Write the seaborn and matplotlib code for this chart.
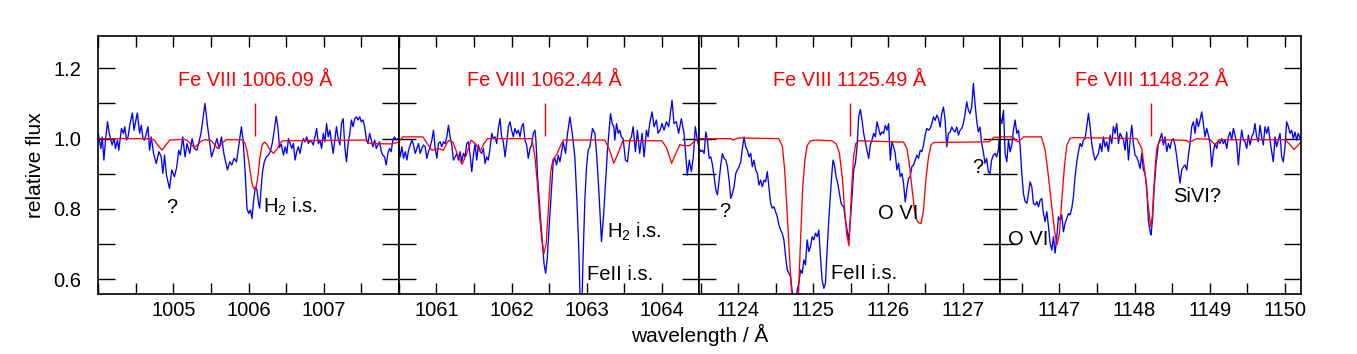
import numpy as np
import pandas as pd
import matplotlib
matplotlib.use("Agg")
import matplotlib.pyplot as plt
from matplotlib.ticker import MultipleLocator, FixedLocator
import seaborn as sns

# ---------------- data ----------------
line_waves = [1006.09, 1062.44, 1125.49, 1148.22]
line_labels = ["Fe VIII 1006.09 Å", "Fe VIII 1062.44 Å", "Fe VIII 1125.49 Å", "Fe VIII 1148.22 Å"]
xlims = [(1004.0, 1008.0), (1060.5, 1064.5), (1123.48, 1127.5), (1146.21, 1150.21)]
xtick_major = [[1005, 1006, 1007], [1061, 1062, 1063, 1064],
               [1124, 1125, 1126, 1127], [1147, 1148, 1149, 1150]]
ytick_major = [0.6, 0.8, 1.0, 1.2]
ylim = (0.558, 1.292)
marker_lo, marker_hi = 1.008, 1.10

obs1 = [(1004.000,1.015),(1004.035,0.972),(1004.053,1.005),(1004.075,0.939),(1004.097,0.996),(1004.123,1.048),
(1004.146,1.015),(1004.168,0.996),(1004.185,0.982),(1004.212,1.000),(1004.229,0.972),(1004.256,0.996),(1004.273,0.967),
(1004.309,1.029),(1004.335,1.015),(1004.353,1.034),(1004.375,0.996),(1004.397,1.005),(1004.419,1.038),(1004.454,1.073),
(1004.476,1.024),(1004.520,1.073),(1004.551,1.015),(1004.573,1.038),(1004.595,1.000),(1004.617,0.996),(1004.661,1.034),
(1004.683,0.967),(1004.705,1.005),(1004.736,0.958),(1004.772,0.929),(1004.807,0.963),(1004.838,0.948),(1004.860,0.901),
(1004.882,0.953),(1004.908,0.896),(1004.948,0.858),(1004.979,0.911),(1005.014,0.892),(1005.045,0.920),(1005.071,0.967),
(1005.093,0.953),(1005.124,1.005),(1005.155,0.948),(1005.182,0.986),(1005.217,0.958),(1005.248,1.000),(1005.279,0.972),
(1005.314,0.967),(1005.367,1.015),(1005.420,1.100),(1005.455,1.034),(1005.508,0.948),(1005.543,0.972),(1005.578,1.000),
(1005.609,0.972),(1005.640,1.005),(1005.675,0.953),(1005.720,0.911),(1005.750,0.934),(1005.777,0.925),(1005.808,0.944),
(1005.839,0.934),(1005.865,0.972),(1005.905,1.034),(1005.927,0.996),(1005.953,0.911),(1005.980,0.800),(1006.002,0.787),
(1006.024,0.797),(1006.046,0.773),(1006.068,0.825),(1006.090,0.863),(1006.112,0.853),(1006.134,0.816),(1006.148,0.802),
(1006.165,0.853),(1006.183,0.901),(1006.209,0.934),(1006.236,0.948),(1006.262,0.953),(1006.289,0.963),(1006.315,0.986),
(1006.342,1.024),(1006.368,1.064),(1006.390,1.034),(1006.412,0.975),(1006.434,0.985),(1006.465,0.953),(1006.487,0.977),
(1006.509,0.958),(1006.531,1.000),(1006.553,0.986),(1006.575,0.972),(1006.597,0.986),(1006.619,0.939),(1006.641,0.963),
(1006.663,0.977),(1006.685,0.958),(1006.708,0.986),(1006.730,1.000),(1006.752,0.991),(1006.774,1.005),(1006.796,0.986),
(1006.818,0.996),(1006.840,0.991),(1006.862,0.982),(1006.884,1.005),(1006.906,1.029),(1006.928,0.986),(1006.950,0.996),
(1006.972,0.972),(1006.994,1.015),(1007.016,0.991),(1007.038,1.043),(1007.060,1.005),(1007.082,1.024),(1007.104,0.991),
(1007.126,0.958),(1007.148,0.996),(1007.170,1.034),(1007.193,1.000),(1007.215,0.982),(1007.237,1.043),(1007.259,1.057),
(1007.281,0.977),(1007.303,0.934),(1007.325,0.986),(1007.347,1.015),(1007.369,1.053),(1007.391,1.034),(1007.413,1.057),
(1007.435,1.062),(1007.457,1.053),(1007.479,1.062),(1007.501,1.048),(1007.523,1.053),(1007.545,1.034),(1007.567,1.000),
(1007.589,0.986),(1007.611,1.015),(1007.633,0.996),(1007.655,0.977),(1007.678,0.996),(1007.700,0.972),(1007.722,0.982),
(1007.744,0.991),(1007.766,0.963),(1007.788,0.953),(1007.810,0.948),(1007.832,0.925),(1007.854,0.958),(1007.876,0.972),
(1007.898,0.963),(1007.920,0.996),(1007.942,1.005),(1007.964,0.996),(1007.986,1.000)]

obs2 = [(1060.496,0.986),(1060.518,0.948),(1060.540,0.977),(1060.562,0.944),(1060.585,0.963),(1060.607,0.939),
(1060.629,0.967),(1060.651,0.982),(1060.673,0.996),(1060.695,0.982),(1060.717,0.958),(1060.739,0.972),(1060.762,0.986),
(1060.784,0.958),(1060.806,0.972),(1060.828,0.982),(1060.850,0.977),(1060.872,0.944),(1060.894,0.963),(1060.917,0.977),
(1060.939,0.996),(1060.961,1.024),(1060.983,0.972),(1061.005,0.944),(1061.027,0.986),(1061.049,0.991),(1061.071,0.977),
(1061.094,0.991),(1061.116,0.986),(1061.138,1.005),(1061.160,1.038),(1061.182,1.005),(1061.204,0.982),(1061.226,0.939),
(1061.249,0.948),(1061.271,0.958),(1061.293,0.939),(1061.315,0.963),(1061.337,0.934),(1061.359,0.958),(1061.381,0.948),
(1061.403,0.986),(1061.426,0.991),(1061.448,0.953),(1061.470,0.906),(1061.492,0.953),(1061.514,0.986),(1061.536,0.939),
(1061.558,0.982),(1061.581,0.963),(1061.603,0.958),(1061.625,0.972),(1061.647,0.929),(1061.669,0.948),(1061.691,0.939),
(1061.713,0.972),(1061.736,1.015),(1061.758,1.000),(1061.780,1.005),(1061.802,0.986),(1061.824,1.029),(1061.846,1.057),
(1061.868,1.005),(1061.890,0.991),(1061.913,0.948),(1061.935,0.986),(1061.957,1.034),(1061.979,1.048),(1062.001,1.024),
(1062.023,1.005),(1062.045,1.029),(1062.068,1.015),(1062.090,1.024),(1062.112,1.005),(1062.134,1.034),(1062.156,1.043),
(1062.178,0.996),(1062.200,0.982),(1062.222,0.944),(1062.245,0.972),(1062.267,0.982),(1062.289,1.015),(1062.311,1.024),
(1062.324,0.996),(1062.346,0.892),(1062.364,0.835),(1062.386,0.768),(1062.408,0.712),(1062.431,0.645),(1062.442,0.630),
(1062.453,0.617),(1062.475,0.660),(1062.497,0.740),(1062.515,0.800),(1062.532,0.853),(1062.554,0.934),(1062.577,0.944),
(1062.599,0.925),(1062.621,0.953),(1062.643,0.934),(1062.687,0.991),(1062.718,0.958),(1062.745,1.015),(1062.776,1.062),
(1062.807,1.015),(1062.842,0.948),(1062.869,0.825),(1062.895,0.683),(1062.917,0.500),(1062.935,0.520),(1062.953,0.673),
(1062.975,0.825),(1062.997,0.920),(1063.019,0.967),(1063.041,0.977),(1063.077,1.029),(1063.108,1.015),(1063.134,0.948),
(1063.161,0.853),(1063.196,0.707),(1063.223,0.778),(1063.249,0.873),(1063.276,0.967),(1063.298,1.024),(1063.316,1.071),
(1063.338,1.043),(1063.360,1.034),(1063.373,0.996),(1063.396,1.043),(1063.418,1.015),(1063.440,1.024),(1063.462,1.005),
(1063.484,1.000),(1063.515,0.939),(1063.542,0.934),(1063.573,0.996),(1063.595,1.005),(1063.617,1.034),(1063.648,0.963),
(1063.674,1.024),(1063.705,0.958),(1063.736,1.015),(1063.763,0.948),(1063.794,1.024),(1063.816,1.005),(1063.838,1.043),
(1063.869,1.076),(1063.896,1.034),(1063.927,1.053),(1063.949,1.015),(1063.975,1.024),(1064.002,1.043),(1064.029,1.024),
(1064.060,1.048),(1064.091,1.034),(1064.135,1.109),(1064.161,1.043),(1064.192,1.048),(1064.223,1.015),(1064.259,1.057),
(1064.294,1.015),(1064.339,0.896),(1064.365,0.939),(1064.392,0.906),(1064.418,0.948),(1064.445,1.034),(1064.471,0.996),
(1064.500,0.972)]

obs3 = [(1123.476,0.972),(1123.498,0.963),(1123.520,0.967),(1123.543,0.958),(1123.565,1.019),(1123.587,0.996),
(1123.609,0.944),(1123.632,0.948),(1123.654,0.925),(1123.676,0.892),(1123.698,0.854),(1123.720,0.840),(1123.743,0.882),
(1123.765,0.925),(1123.787,0.958),(1123.809,0.944),(1123.832,0.939),(1123.854,0.920),(1123.876,0.882),(1123.898,0.830),
(1123.920,0.844),(1123.943,0.863),(1123.965,0.901),(1123.987,0.911),(1124.009,0.920),(1124.032,0.934),(1124.054,0.972),
(1124.076,1.005),(1124.098,0.977),(1124.120,0.967),(1124.143,0.948),(1124.165,0.958),(1124.187,0.920),(1124.209,0.939),
(1124.232,0.911),(1124.254,0.901),(1124.276,0.868),(1124.298,0.882),(1124.320,0.863),(1124.343,0.882),(1124.365,0.877),
(1124.387,0.906),(1124.409,0.863),(1124.432,0.816),(1124.454,0.802),(1124.476,0.806),(1124.498,0.792),(1124.520,0.778),
(1124.543,0.754),(1124.565,0.740),(1124.587,0.731),(1124.609,0.712),(1124.632,0.664),(1124.654,0.626),(1124.676,0.617),
(1124.698,0.607),(1124.720,0.565),(1124.743,0.532),(1124.760,0.520),(1124.774,0.541),(1124.787,0.570),(1124.809,0.589),
(1124.832,0.626),(1124.854,0.617),(1124.876,0.655),(1124.898,0.641),(1124.920,0.712),(1124.943,0.679),(1124.965,0.693),
(1124.987,0.721),(1125.009,0.712),(1125.032,0.731),(1125.054,0.721),(1125.076,0.740),(1125.098,0.664),(1125.120,0.598),
(1125.143,0.574),(1125.165,0.589),(1125.187,0.683),(1125.209,0.768),(1125.232,0.844),(1125.254,0.911),(1125.267,0.939),
(1125.285,0.925),(1125.307,0.892),(1125.329,0.873),(1125.352,0.844),(1125.374,0.816),(1125.387,0.811),(1125.409,0.806),
(1125.432,0.768),(1125.454,0.740),(1125.476,0.712),(1125.498,0.768),(1125.520,0.835),(1125.543,0.911),(1125.565,0.930),
(1125.587,0.977),(1125.609,1.062),(1125.632,1.083),(1125.654,1.052),(1125.676,1.015),(1125.698,0.991),(1125.720,0.967),
(1125.743,0.944),(1125.765,0.982),(1125.787,0.996),(1125.809,1.015),(1125.832,1.005),(1125.854,1.048),(1125.876,1.029),
(1125.898,1.010),(1125.920,1.019),(1125.943,1.015),(1125.965,1.038),(1125.987,1.024),(1126.009,1.043),(1126.032,0.939),
(1126.054,0.991),(1126.076,0.977),(1126.098,0.958),(1126.120,0.911),(1126.143,0.930),(1126.165,0.892),(1126.187,0.901),
(1126.209,0.873),(1126.232,0.820),(1126.254,0.858),(1126.276,0.887),(1126.298,0.892),(1126.320,0.920),(1126.343,0.925),
(1126.365,0.939),(1126.387,0.953),(1126.409,0.944),(1126.432,0.967),(1126.454,0.963),(1126.476,0.982),(1126.498,1.010),
(1126.520,1.029),(1126.543,1.024),(1126.565,1.029),(1126.587,1.043),(1126.609,1.062),(1126.632,1.052),(1126.654,1.067),
(1126.676,1.057),(1126.698,1.033),(1126.720,1.071),(1126.743,1.090),(1126.765,1.052),(1126.787,0.977),(1126.809,1.015),
(1126.832,1.019),(1126.854,1.033),(1126.876,1.024),(1126.898,1.019),(1126.920,1.033),(1126.943,1.010),(1126.965,1.024),
(1126.987,1.029),(1127.009,1.043),(1127.032,1.071),(1127.054,1.105),(1127.076,1.081),(1127.098,1.071),(1127.120,1.090),
(1127.143,1.157),(1127.165,1.100),(1127.187,1.052),(1127.209,1.019),(1127.232,1.033),(1127.254,0.986),(1127.276,0.963),
(1127.298,0.930),(1127.320,0.944),(1127.343,0.906),(1127.365,0.901),(1127.387,0.939),(1127.409,0.953),(1127.432,0.958),
(1127.454,0.948),(1127.476,0.967),(1127.502,1.024)]

obs4 = [(1146.211,1.062),(1146.233,1.043),(1146.255,1.081),(1146.277,0.958),(1146.300,0.934),(1146.322,0.996),
(1146.344,0.963),(1146.366,0.982),(1146.388,1.024),(1146.410,1.053),(1146.433,1.015),(1146.455,1.024),(1146.477,0.977),
(1146.499,0.901),(1146.521,0.844),(1146.543,0.821),(1146.566,0.816),(1146.588,0.844),(1146.610,0.877),(1146.632,0.863),
(1146.654,0.816),(1146.676,0.811),(1146.699,0.821),(1146.721,0.806),(1146.743,0.825),(1146.765,0.830),(1146.787,0.787),
(1146.809,0.764),(1146.832,0.792),(1146.854,0.750),(1146.876,0.702),(1146.898,0.683),(1146.920,0.721),(1146.942,0.674),
(1146.965,0.721),(1146.987,0.778),(1147.009,0.768),(1147.031,0.783),(1147.053,0.735),(1147.075,0.759),(1147.098,0.773),
(1147.120,0.787),(1147.142,0.783),(1147.164,0.802),(1147.186,0.835),(1147.208,0.892),(1147.231,0.934),(1147.253,0.963),
(1147.275,0.986),(1147.297,0.977),(1147.319,0.996),(1147.341,1.000),(1147.363,1.034),(1147.386,1.072),(1147.408,1.034),
(1147.430,0.986),(1147.452,0.958),(1147.474,0.939),(1147.496,0.948),(1147.519,0.958),(1147.541,0.986),(1147.563,0.963),
(1147.585,1.005),(1147.607,0.977),(1147.629,0.991),(1147.652,0.963),(1147.674,1.010),(1147.696,0.986),(1147.718,1.034),
(1147.740,1.015),(1147.762,1.043),(1147.785,0.986),(1147.807,1.015),(1147.829,1.005),(1147.851,0.996),(1147.873,0.967),
(1147.895,1.019),(1147.918,0.939),(1147.940,0.996),(1147.962,1.038),(1147.984,0.986),(1148.006,0.953),(1148.028,0.948),
(1148.050,0.934),(1148.073,0.915),(1148.095,0.958),(1148.117,0.911),(1148.139,0.901),(1148.161,0.863),(1148.183,0.768),
(1148.206,0.735),(1148.219,0.726),(1148.241,0.778),(1148.259,0.854),(1148.286,0.929),(1148.317,0.986),(1148.339,1.000),
(1148.361,1.015),(1148.383,0.982),(1148.405,1.005),(1148.428,0.963),(1148.450,0.986),(1148.472,0.972),(1148.494,0.996),
(1148.516,1.000),(1148.538,0.982),(1148.561,0.948),(1148.583,0.911),(1148.605,0.873),(1148.627,0.911),(1148.649,0.920),
(1148.671,0.925),(1148.694,0.911),(1148.716,0.953),(1148.738,0.986),(1148.760,1.034),(1148.782,1.048),(1148.804,1.015),
(1148.827,1.057),(1148.849,1.034),(1148.871,1.053),(1148.893,1.076),(1148.915,1.043),(1148.937,1.005),(1148.960,1.029),
(1148.982,1.010),(1149.004,0.986),(1149.026,0.920),(1149.048,0.963),(1149.070,0.986),(1149.093,0.972),(1149.115,0.996),
(1149.137,0.986),(1149.159,1.000),(1149.181,0.986),(1149.203,0.996),(1149.226,0.972),(1149.248,1.005),(1149.270,1.019),
(1149.292,0.996),(1149.314,1.029),(1149.336,1.010),(1149.359,0.986),(1149.381,0.925),(1149.403,0.982),(1149.425,1.024),
(1149.447,0.996),(1149.469,0.991),(1149.492,0.972),(1149.514,1.010),(1149.536,0.982),(1149.558,1.005),(1149.580,1.015),
(1149.602,1.043),(1149.624,1.005),(1149.647,0.991),(1149.669,1.038),(1149.691,1.005),(1149.713,0.982),(1149.735,1.034),
(1149.757,1.015),(1149.780,1.034),(1149.802,0.996),(1149.824,0.963),(1149.846,0.934),(1149.868,1.005),(1149.890,0.977),
(1149.913,0.996),(1149.935,1.015),(1149.957,0.948),(1149.979,0.934),(1150.001,0.977),(1150.023,1.048),(1150.046,1.034),
(1150.068,1.015),(1150.090,1.024),(1150.112,1.000),(1150.134,1.019),(1150.156,0.996),(1150.178,1.015),(1150.209,0.996)]

model1 = [(1004.00,1.000),(1004.70,1.000),(1004.75,0.995),(1004.79,0.982),(1004.85,0.967),(1004.90,0.982),(1004.95,0.996),
(1005.15,0.998),(1005.20,0.992),(1005.24,0.982),(1005.28,0.975),(1005.32,0.982),(1005.37,0.993),(1005.42,0.997),
(1005.50,0.995),(1005.54,0.985),(1005.59,0.972),(1005.64,0.985),(1005.70,0.997),(1005.92,0.997),(1005.95,0.988),
(1005.98,0.965),(1006.01,0.925),(1006.04,0.880),(1006.06,0.862),(1006.08,0.856),(1006.10,0.862),(1006.12,0.885),
(1006.15,0.945),(1006.18,0.982),(1006.21,0.990),(1006.24,0.985),(1006.28,0.970),(1006.33,0.958),(1006.38,0.970),
(1006.42,0.988),(1006.46,0.994),(1007.55,0.996),(1007.62,0.986),(1007.90,0.985),(1008.00,0.990)]

model2 = [(1060.50,0.990),(1060.55,1.005),(1060.82,1.005),(1060.88,0.985),(1060.94,0.967),(1061.03,0.972),(1061.09,0.967),
(1061.16,0.995),(1061.22,0.990),(1061.28,0.955),(1061.34,0.927),(1061.40,0.955),(1061.46,0.996),(1061.52,0.985),
(1061.58,0.964),(1061.63,0.985),(1061.68,1.000),(1062.27,1.000),(1062.31,0.950),(1062.34,0.880),(1062.37,0.790),
(1062.40,0.715),(1062.43,0.672),(1062.46,0.700),(1062.49,0.800),(1062.52,0.905),(1062.55,0.940),(1062.60,0.955),
(1062.64,0.975),(1062.69,0.996),(1063.24,0.996),(1063.30,0.970),(1063.36,0.930),(1063.42,0.960),(1063.48,0.994),
(1064.00,0.994),(1064.06,0.975),(1064.13,0.930),(1064.19,0.960),(1064.24,0.983),(1064.30,0.980),(1064.37,0.980),
(1064.45,0.995),(1064.50,1.000)]

model3 = [(1123.48,1.000),(1123.90,1.000),(1123.93,0.996),(1124.00,1.002),(1124.54,1.000),(1124.59,0.977),(1124.62,0.910),
(1124.65,0.800),(1124.68,0.680),(1124.71,0.570),(1124.74,0.520),(1124.77,0.500),(1124.80,0.540),(1124.83,0.700),
(1124.86,0.860),(1124.89,0.940),(1124.92,0.980),(1124.96,0.993),(1125.03,0.996),(1125.25,0.994),(1125.31,0.985),
(1125.35,0.960),(1125.39,0.890),(1125.42,0.800),(1125.45,0.725),(1125.48,0.695),(1125.51,0.835),(1125.54,0.948),
(1125.57,0.986),(1125.61,0.994),(1126.21,0.990),(1126.254,0.972),(1126.285,0.930),(1126.32,0.863),(1126.356,0.797),
(1126.387,0.768),(1126.415,0.760),(1126.445,0.759),(1126.476,0.797),(1126.507,0.882),(1126.543,0.948),(1126.578,0.982),
(1126.61,0.989),(1127.35,0.991),(1127.42,1.004),(1127.50,1.004)]

model4 = [(1146.21,1.005),(1146.38,1.005),(1146.42,0.995),(1146.45,0.991),(1146.49,0.998),(1146.52,1.005),(1146.76,1.005),
(1146.81,0.967),(1146.854,0.892),(1146.898,0.806),(1146.934,0.740),(1146.965,0.697),(1147.00,0.730),(1147.031,0.825),
(1147.066,0.920),(1147.098,0.982),(1147.142,1.001),(1147.19,1.003),(1148.03,1.000),(1148.095,0.972),(1148.139,0.901),
(1148.183,0.806),(1148.215,0.750),(1148.235,0.778),(1148.255,0.854),(1148.275,0.920),(1148.295,0.972),(1148.33,0.991),
(1148.36,0.997),(1148.69,0.995),(1148.72,0.990),(1148.76,0.993),(1148.83,1.000),(1149.00,0.998),(1149.07,0.983),
(1149.13,0.997),(1150.00,0.997),(1150.06,0.985),(1150.12,0.969),(1150.17,0.980),(1150.21,0.990)]

annotations = [
    [("?", 1004.91, 0.789), ("H$_2$ i.s.", 1006.19, 0.788)],
    [("H$_2$ i.s.", 1063.27, 0.719), ("FeII i.s.", 1063.01, 0.598)],
    [("?", 1123.75, 0.778), ("O VI", 1125.87, 0.771), ("FeII i.s.", 1125.245, 0.600), ("?", 1127.125, 0.901)],
    [("O VI", 1146.31, 0.698), ("SiVI?", 1148.51, 0.821)],
]
title_y = 1.150

observed = [obs1, obs2, obs3, obs4]
models = [model1, model2, model3, model4]

# ---------------- style ----------------
sns.set_style("ticks")
plt.rcParams['font.family'] = ['Liberation Sans', 'DejaVu Sans']
plt.rcParams['mathtext.fontset'] = 'custom'
plt.rcParams['mathtext.rm'] = 'Liberation Sans'
plt.rcParams['mathtext.it'] = 'Liberation Sans:italic'
plt.rcParams['text.color'] = 'black'
plt.rcParams['axes.labelcolor'] = 'black'
plt.rcParams['xtick.color'] = 'black'
plt.rcParams['ytick.color'] = 'black'

fig, axes = plt.subplots(1, 4, figsize=(13.57, 3.54), dpi=100, sharey=True,
                         gridspec_kw=dict(wspace=0))
fig.subplots_adjust(left=0.0724, right=0.9585, bottom=0.1695, top=0.8983)

for i, ax in enumerate(axes):
    dobs = pd.DataFrame(observed[i], columns=["wave", "flux"])
    dmod = pd.DataFrame(models[i], columns=["wave", "flux"])
    sns.lineplot(data=dobs, x="wave", y="flux", ax=ax, color="#0000ff", lw=0.95,
                 sort=False, estimator=None)
    sns.lineplot(data=dmod, x="wave", y="flux", ax=ax, color="#ff0000", lw=0.95,
                 sort=False, estimator=None)
    ax.vlines(line_waves[i], marker_lo, marker_hi, color="#ff0000", lw=1.0)
    ax.text(line_waves[i], title_y, line_labels[i], color="#ff0000", fontsize=14.3,
            ha="center", va="baseline")
    for txt, x, y in annotations[i]:
        ax.text(x, y, txt, color="black", fontsize=14.5, ha="left", va="baseline")
    ax.set_xlim(*xlims[i])
    ax.set_ylim(*ylim)
    ax.xaxis.set_major_locator(FixedLocator(xtick_major[i]))
    ax.xaxis.set_minor_locator(MultipleLocator(0.5))
    ax.yaxis.set_major_locator(FixedLocator(ytick_major))
    ax.yaxis.set_minor_locator(MultipleLocator(0.1))
    ax.tick_params(axis="x", which="both", direction="in", top=True, bottom=True,
                   length=8, width=1.0, labelsize=14.5, pad=5, colors="black")
    ax.tick_params(axis="y", which="both", direction="in", left=True, right=True,
                   length=12, width=1.0, labelsize=14.5, pad=12, colors="black")
    ax.set_xlabel("")
    ax.set_ylabel("")
    for s in ax.spines.values():
        s.set_linewidth(1.2)
        s.set_color("black")
        s.set_visible(True)

axes[0].yaxis.set_major_formatter(matplotlib.ticker.FormatStrFormatter("%.1f"))
axes[0].set_ylabel("relative flux", fontsize=15, labelpad=6, color="black")
fig.text((98.3 + 1300.7) / 2 / 1357, 1 - 335 / 354, "wavelength / Å", fontsize=15,
         ha="center", va="center", color="black")

fig.savefig("out.png", dpi=100)
